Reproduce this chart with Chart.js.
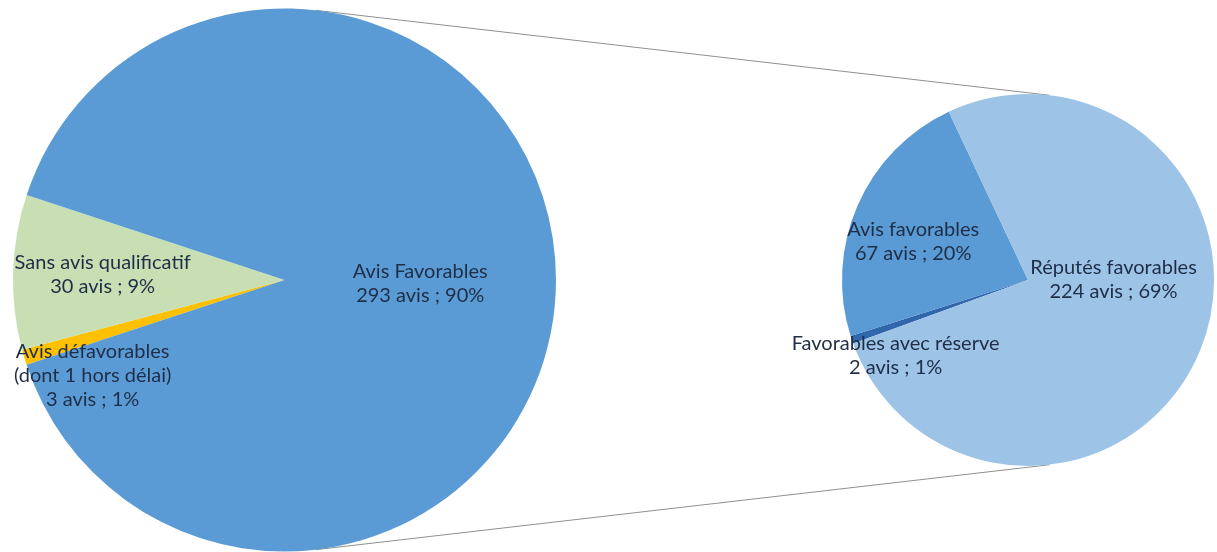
<!DOCTYPE html>
<html lang="fr">
<head>
<meta charset="utf-8">
<title>Répartition des avis</title>
<script src="https://cdn.jsdelivr.net/npm/chart.js@4.4.1/dist/chart.umd.min.js"></script>
<style>
  html, body { margin: 0; padding: 0; background: #fff; }
  #wrap { position: relative; width: 1217px; height: 552px; overflow: hidden; }
  #wrap canvas { position: absolute; left: 0; top: 0; }
</style>
</head>
<body>
<div id="wrap">
  <canvas id="mainPie" width="1217" height="552"></canvas>
  <canvas id="subPie" width="1217" height="552"></canvas>
</div>
<script>
/* pie of pie: main split on the left, "Avis Favorables" detailed on the right */

// main pie (clockwise from the start angle)
const mainNames = [["Avis défavorables", "(dont 1 hors délai)"], ["Sans avis qualificatif"], ["Avis Favorables"]];
const mainValues = [3, 30, 293];
const mainPercents = [1, 9, 90];
const mainColors = ["#FFC000", "#C8DFB3", "#5B9BD5"];

// secondary pie: breakdown of the 293 favourable opinions
const subNames = [["Favorables avec réserve"], ["Avis favorables"], ["Réputés favorables"]];
const subValues = [2, 67, 224];
const subPercents = [1, 20, 69];
const subColors = ["#2F66AC", "#5A9AD5", "#9DC3E6"];

// label spots: offset from the slice mid angle (deg) and fraction of the radius
const mainSpots = [{ turn: -10, frac: 0.79 }, { turn: 0, frac: 0.67 }, { turn: 1.3, frac: 0.5 }];
const subSpots = [{ turn: -11, frac: 0.82 }, { turn: -5.3, frac: 0.65 }, { turn: -22.4, frac: 0.46 }];

const FONT = "20px Lato, 'Open Sans', sans-serif";
const TEXT = "#1f2e47";
const LINE_H = 24;

const sliceLabels = (names, values, percents, spots) => ({
  id: "sliceLabels",
  afterDatasetsDraw(chart) {
    const ctx = chart.ctx;
    const arcs = chart.getDatasetMeta(0).data;
    ctx.save();
    ctx.font = FONT;
    ctx.fillStyle = TEXT;
    ctx.textAlign = "center";
    ctx.textBaseline = "middle";
    arcs.forEach((arc, i) => {
      const mid = (arc.startAngle + arc.endAngle) / 2 + spots[i].turn * Math.PI / 180;
      const dist = arc.outerRadius * spots[i].frac;
      const cx = arc.x + Math.cos(mid) * dist;
      const cy = arc.y + Math.sin(mid) * dist;
      const lines = [...names[i], `${values[i]} avis ; ${percents[i]}%`];
      lines.forEach((txt, k) => {
        ctx.fillText(txt, cx, cy + (k - (lines.length - 1) / 2) * LINE_H);
      });
    });
    ctx.restore();
  },
});

const pieOptions = (rotation, padding) => ({
  responsive: false,
  animation: false,
  rotation,
  layout: { padding },
  plugins: { legend: { display: false }, tooltip: { enabled: false } },
});

const subChart = new Chart(document.getElementById("subPie"), {
  type: "pie",
  data: {
    labels: subNames.map((n) => n.join(" ")),
    datasets: [{ data: subValues, backgroundColor: subColors, borderWidth: 0 }],
  },
  options: pieOptions(250, { left: 842, right: 3, top: 94, bottom: 86 }),
  plugins: [sliceLabels(subNames, subValues, subPercents, subSpots)],
});

// outer tangents joining the two circles
const connectors = {
  id: "connectors",
  beforeDatasetsDraw(chart) {
    const a = chart.getDatasetMeta(0).data[0];
    const b = subChart.getDatasetMeta(0).data[0];
    if (!a || !b) return;
    const vx = b.x - a.x, vy = b.y - a.y;
    const d = Math.hypot(vx, vy);
    const ux = vx / d, uy = vy / d;
    const c = (a.outerRadius - b.outerRadius) / d;
    const h = Math.sqrt(Math.max(0, 1 - c * c));
    const ctx = chart.ctx;
    ctx.save();
    ctx.strokeStyle = "#8f8f8f";
    ctx.lineWidth = 1;
    [1, -1].forEach((k) => {
      const nx = ux * c - k * h * uy;
      const ny = uy * c + k * h * ux;
      ctx.beginPath();
      ctx.moveTo(a.x + nx * a.outerRadius, a.y + ny * a.outerRadius);
      ctx.lineTo(b.x + nx * b.outerRadius, b.y + ny * b.outerRadius);
      ctx.stroke();
    });
    ctx.restore();
  },
};

new Chart(document.getElementById("mainPie"), {
  type: "pie",
  data: {
    labels: mainNames.map((n) => n.join(" ")),
    datasets: [{ data: mainValues, backgroundColor: mainColors, borderWidth: 0 }],
  },
  options: pieOptions(251.8, { left: 13, right: 661, top: 8, bottom: 0 }),
  plugins: [connectors, sliceLabels(mainNames, mainValues, mainPercents, mainSpots)],
});
</script>
</body>
</html>
